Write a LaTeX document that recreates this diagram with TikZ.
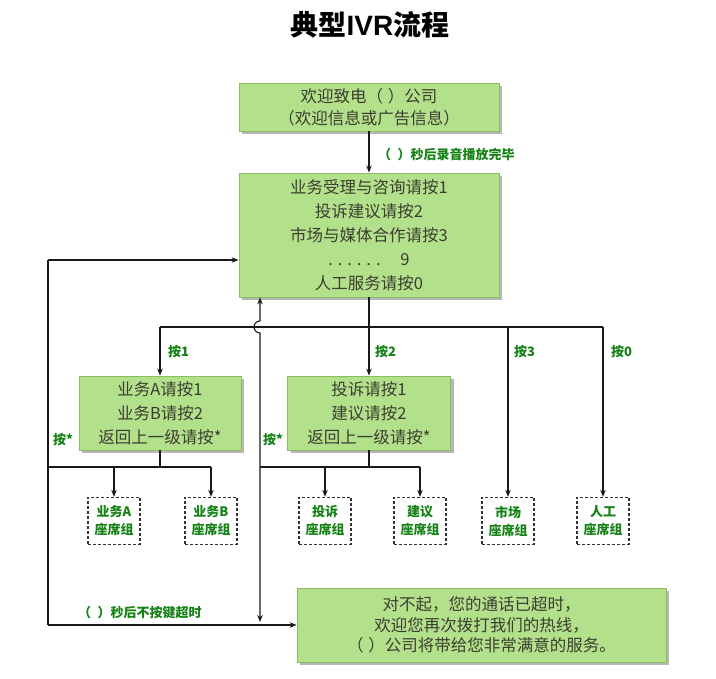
\documentclass[tikz,border=0pt]{standalone}
\usepackage{fontspec}
\setmainfont{Noto Sans CJK SC}
\newfontfamily\latinsans{Liberation Sans}
\usetikzlibrary{arrows.meta,shadows}
\definecolor{boxfill}{RGB}{179,224,138}
\definecolor{boxline}{RGB}{140,190,95}
\definecolor{boxtext}{RGB}{60,62,50}
\definecolor{lblgreen}{RGB}{20,130,20}
\definecolor{lineclr}{RGB}{25,25,25}
\begin{document}
\begin{tikzpicture}[x=1pt,y=1pt,
  gbox/.style={draw=boxline, line width=0.8pt, fill=boxfill, text=boxtext, align=center, inner sep=0pt,
    font=\fontsize{16.5}{23}\selectfont,
    drop shadow={shadow xshift=3pt, shadow yshift=-3pt, opacity=0.4, fill=black!70}},
  dbox/.style={draw=black!80, dash pattern=on 3pt off 2pt, line width=1.2pt, fill=white, text=lblgreen, align=center, inner sep=0pt,
    font=\bfseries\fontsize{13}{18}\selectfont, minimum width=52pt, minimum height=47pt},
  lbl/.style={text=lblgreen, font=\bfseries\fontsize{13}{14}\selectfont, inner sep=0pt, anchor=west},
  conn/.style={draw=lineclr, line width=1.1pt},
  arr/.style={conn, -{Stealth[length=7pt,width=5.5pt]}},
  darr/.style={conn, {Stealth[length=7pt,width=5.5pt]}-{Stealth[length=7pt,width=5.5pt]}},
]
\useasboundingbox (0,0) rectangle (716,679);

% title
\node[font=\bfseries\fontsize{28}{28}\selectfont, text=black] (title) at (370,654) {典型{\latinsans\bfseries IVR}流程};

% main boxes
\node[gbox, minimum width=260pt, minimum height=48pt, font=\fontsize{16.5}{22}\selectfont] (welcome) at (369,572)
  {欢迎致电（\hspace{0.3em}）公司\\（欢迎信息或广告信息）};
\node[gbox, minimum width=260pt, minimum height=124pt, font=\fontsize{16.5}{24}\selectfont] (menu) at (369,444)
  {业务受理与咨询请按1\\投诉建议请按2\\市场与媒体合作请按3\\. . . . . .\hspace{1.2em}9\\人工服务请按0};
\node[gbox, minimum width=162pt, minimum height=74pt, font=\fontsize{16.5}{24}\selectfont] (subA) at (160,266)
  {业务A请按1\\业务B请按2\\返回上一级请按*};
\node[gbox, minimum width=163pt, minimum height=74pt, font=\fontsize{16.5}{24}\selectfont] (subB) at (369,266)
  {投诉请按1\\建议请按2\\返回上一级请按*};
\node[gbox, minimum width=369pt, minimum height=74pt, font=\fontsize{16.5}{20.5}\selectfont] (sorry) at (481.5,54)
  {对不起，您的通话已超时，\\欢迎您再次拨打我们的热线，\\（\hspace{0.3em}）公司将带给您非常满意的服务。};

% dashed seat groups
\node[dbox] (dA1) at (114,158) {业务A\\座席组};
\node[dbox] (dA2) at (211,158) {业务B\\座席组};
\node[dbox] (dB1) at (325,158) {投诉\\座席组};
\node[dbox] (dB2) at (420,158) {建议\\座席组};
\node[dbox] (dC)  at (508,158) {市场\\座席组};
\node[dbox] (dD)  at (603,158) {人工\\座席组};

% helper coordinates
\coordinate (yBr) at (0,352);
\coordinate (yJ) at (0,212);
\coordinate (Ltop) at (48,419);
\coordinate (Lbot) at (48,54);
\coordinate (Rbot) at (260,57);
\coordinate (bumpLo) at (260,346);

% welcome -> menu
\draw[arr] (welcome.south) -- (menu.north);
\node[lbl] (l0) at (378,524) {（\hspace{0.5em}）秒后录音播放完毕};

% branch line
\draw[arr] (menu.south) -- (subB.north);
\draw[conn] (subA.north |- yBr) -- (dD.north |- yBr);
\draw[arr] (subA.north |- yBr) -- (subA.north);
\draw[arr] (dC.north |- yBr) -- (dC.north);
\draw[arr] (dD.north |- yBr) -- (dD.north);
\node[lbl] (l1) at (168,327) {按1};
\node[lbl] (l2) at (375,327) {按2};
\node[lbl] (l3) at (514,327) {按3};
\node[lbl] (l4) at (611,327) {按0};

% sub A junction
\draw[conn] (subA.south) -- (subA.south |- yJ);
\draw[conn] (Ltop |- yJ) -- (dA2.north |- yJ);
\draw[arr] (dA1.north |- yJ) -- (dA1.north);
\draw[arr] (dA2.north |- yJ) -- (dA2.north);

% sub B junction
\draw[conn] (subB.south) -- (subB.south |- yJ);
\draw[conn] (Rbot |- yJ) -- (dB2.north |- yJ);
\draw[arr] (dB1.north |- yJ) -- (dB1.north);
\draw[arr] (dB2.north |- yJ) -- (dB2.north);

% left loop
\draw[conn] (Lbot) -- (Ltop);
\draw[arr] (Ltop) -- (menu.west |- Ltop);
\draw[arr] (Lbot) -- (sorry.west);
\node[lbl] (ls1) at (53,239) {按*};
\node[lbl] (lt) at (78,66) {（\hspace{0.5em}）秒后不按键超时};

% right loop with jump-over
\draw[darr] (Rbot) -- (bumpLo) arc[start angle=-90, end angle=-270, radius=6] -- (Rbot |- menu.south);
\node[lbl] (ls2) at (263,239) {按*};
\end{tikzpicture}
\end{document}
